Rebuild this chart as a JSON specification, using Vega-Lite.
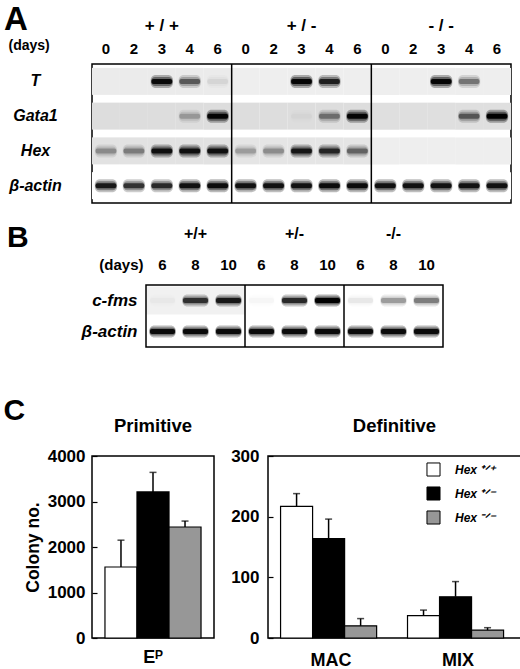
{
  "$schema": "https://vega.github.io/schema/vega-lite/v6.json",
  "background": "white",
  "padding": {"left": 3, "right": 0, "top": 3, "bottom": 0},
  "config": {
    "font": "Liberation Sans",
    "view": {"stroke": "black", "strokeWidth": 1.5},
    "axis": {"labelFont": "Liberation Sans", "labelFontWeight": "bold", "labelColor": "black", "titleFont": "Liberation Sans", "titleFontWeight": "bold", "titleColor": "black", "grid": false, "labelOverlap": false, "labelFlush": false},
    "title": {"font": "Liberation Sans", "fontWeight": "bold", "color": "black"}
  },
  "datasets": {
    "gelA": [
      {"gene": "T", "lane": "+ / +|0", "v": 0, "bg": 0.07},
      {"gene": "T", "lane": "+ / +|2", "v": 0, "bg": 0.07},
      {"gene": "T", "lane": "+ / +|3", "v": 0.9, "bg": 0.07},
      {"gene": "T", "lane": "+ / +|4", "v": 0.45, "bg": 0.07},
      {"gene": "T", "lane": "+ / +|6", "v": 0.05, "bg": 0.07},
      {"gene": "T", "lane": "+ / -|0", "v": 0, "bg": 0.06},
      {"gene": "T", "lane": "+ / -|2", "v": 0, "bg": 0.06},
      {"gene": "T", "lane": "+ / -|3", "v": 0.95, "bg": 0.06},
      {"gene": "T", "lane": "+ / -|4", "v": 0.75, "bg": 0.06},
      {"gene": "T", "lane": "+ / -|6", "v": 0, "bg": 0.06},
      {"gene": "T", "lane": "- / -|0", "v": 0, "bg": 0.06},
      {"gene": "T", "lane": "- / -|2", "v": 0, "bg": 0.06},
      {"gene": "T", "lane": "- / -|3", "v": 0.95, "bg": 0.06},
      {"gene": "T", "lane": "- / -|4", "v": 0.35, "bg": 0.06},
      {"gene": "T", "lane": "- / -|6", "v": 0, "bg": 0.06},
      {"gene": "Gata1", "lane": "+ / +|0", "v": 0, "bg": 0.12},
      {"gene": "Gata1", "lane": "+ / +|2", "v": 0, "bg": 0.12},
      {"gene": "Gata1", "lane": "+ / +|3", "v": 0, "bg": 0.12},
      {"gene": "Gata1", "lane": "+ / +|4", "v": 0.2, "bg": 0.12},
      {"gene": "Gata1", "lane": "+ / +|6", "v": 0.95, "bg": 0.12},
      {"gene": "Gata1", "lane": "+ / -|0", "v": 0, "bg": 0.12},
      {"gene": "Gata1", "lane": "+ / -|2", "v": 0, "bg": 0.12},
      {"gene": "Gata1", "lane": "+ / -|3", "v": 0.02, "bg": 0.12},
      {"gene": "Gata1", "lane": "+ / -|4", "v": 0.35, "bg": 0.12},
      {"gene": "Gata1", "lane": "+ / -|6", "v": 0.95, "bg": 0.12},
      {"gene": "Gata1", "lane": "- / -|0", "v": 0, "bg": 0.11},
      {"gene": "Gata1", "lane": "- / -|2", "v": 0, "bg": 0.11},
      {"gene": "Gata1", "lane": "- / -|3", "v": 0, "bg": 0.11},
      {"gene": "Gata1", "lane": "- / -|4", "v": 0.45, "bg": 0.11},
      {"gene": "Gata1", "lane": "- / -|6", "v": 1, "bg": 0.11},
      {"gene": "Hex", "lane": "+ / +|0", "v": 0.25, "bg": 0.1},
      {"gene": "Hex", "lane": "+ / +|2", "v": 0.3, "bg": 0.1},
      {"gene": "Hex", "lane": "+ / +|3", "v": 0.85, "bg": 0.1},
      {"gene": "Hex", "lane": "+ / +|4", "v": 0.85, "bg": 0.1},
      {"gene": "Hex", "lane": "+ / +|6", "v": 0.85, "bg": 0.1},
      {"gene": "Hex", "lane": "+ / -|0", "v": 0.2, "bg": 0.09},
      {"gene": "Hex", "lane": "+ / -|2", "v": 0.25, "bg": 0.09},
      {"gene": "Hex", "lane": "+ / -|3", "v": 0.8, "bg": 0.09},
      {"gene": "Hex", "lane": "+ / -|4", "v": 0.7, "bg": 0.09},
      {"gene": "Hex", "lane": "+ / -|6", "v": 0.4, "bg": 0.09},
      {"gene": "Hex", "lane": "- / -|0", "v": 0, "bg": 0.06},
      {"gene": "Hex", "lane": "- / -|2", "v": 0, "bg": 0.06},
      {"gene": "Hex", "lane": "- / -|3", "v": 0, "bg": 0.06},
      {"gene": "Hex", "lane": "- / -|4", "v": 0, "bg": 0.06},
      {"gene": "Hex", "lane": "- / -|6", "v": 0, "bg": 0.06},
      {"gene": "β-actin", "lane": "+ / +|0", "v": 0.8, "bg": 0},
      {"gene": "β-actin", "lane": "+ / +|2", "v": 0.65, "bg": 0},
      {"gene": "β-actin", "lane": "+ / +|3", "v": 0.7, "bg": 0},
      {"gene": "β-actin", "lane": "+ / +|4", "v": 0.85, "bg": 0},
      {"gene": "β-actin", "lane": "+ / +|6", "v": 0.9, "bg": 0},
      {"gene": "β-actin", "lane": "+ / -|0", "v": 0.85, "bg": 0},
      {"gene": "β-actin", "lane": "+ / -|2", "v": 0.85, "bg": 0},
      {"gene": "β-actin", "lane": "+ / -|3", "v": 0.85, "bg": 0},
      {"gene": "β-actin", "lane": "+ / -|4", "v": 0.9, "bg": 0},
      {"gene": "β-actin", "lane": "+ / -|6", "v": 0.9, "bg": 0},
      {"gene": "β-actin", "lane": "- / -|0", "v": 0.85, "bg": 0},
      {"gene": "β-actin", "lane": "- / -|2", "v": 0.85, "bg": 0},
      {"gene": "β-actin", "lane": "- / -|3", "v": 0.85, "bg": 0},
      {"gene": "β-actin", "lane": "- / -|4", "v": 0.85, "bg": 0},
      {"gene": "β-actin", "lane": "- / -|6", "v": 0.85, "bg": 0}
    ],
    "gelADividers": [{"lane": "+ / -|0"}, {"lane": "- / -|0"}],
    "gelB": [
      {"gene": "c-fms", "lane": "+/+|6", "v": 0.02, "bg": 0.05},
      {"gene": "c-fms", "lane": "+/+|8", "v": 0.65, "bg": 0.05},
      {"gene": "c-fms", "lane": "+/+|10", "v": 0.8, "bg": 0.05},
      {"gene": "c-fms", "lane": "+/-|6", "v": 0.02, "bg": 0},
      {"gene": "c-fms", "lane": "+/-|8", "v": 0.7, "bg": 0},
      {"gene": "c-fms", "lane": "+/-|10", "v": 1, "bg": 0},
      {"gene": "c-fms", "lane": "-/-|6", "v": 0.05, "bg": 0},
      {"gene": "c-fms", "lane": "-/-|8", "v": 0.25, "bg": 0},
      {"gene": "c-fms", "lane": "-/-|10", "v": 0.35, "bg": 0},
      {"gene": "β-actin", "lane": "+/+|6", "v": 0.9, "bg": 0},
      {"gene": "β-actin", "lane": "+/+|8", "v": 0.9, "bg": 0},
      {"gene": "β-actin", "lane": "+/+|10", "v": 0.9, "bg": 0},
      {"gene": "β-actin", "lane": "+/-|6", "v": 0.9, "bg": 0},
      {"gene": "β-actin", "lane": "+/-|8", "v": 0.9, "bg": 0},
      {"gene": "β-actin", "lane": "+/-|10", "v": 0.9, "bg": 0},
      {"gene": "β-actin", "lane": "-/-|6", "v": 0.9, "bg": 0},
      {"gene": "β-actin", "lane": "-/-|8", "v": 0.9, "bg": 0},
      {"gene": "β-actin", "lane": "-/-|10", "v": 0.9, "bg": 0}
    ],
    "gelBDividers": [{"lane": "+/-|6"}, {"lane": "-/-|6"}],
    "gelBFrame": [{"from": "+/+|6", "to": "-/-|10"}],
    "primitive": [
      {"cat": "Eᴾ", "geno": "+/+", "value": 1560, "upper": 2150},
      {"cat": "Eᴾ", "geno": "+/-", "value": 3210, "upper": 3640},
      {"cat": "Eᴾ", "geno": "-/-", "value": 2440, "upper": 2570}
    ],
    "definitive": [
      {"cat": "MAC", "geno": "+/+", "value": 217, "upper": 238},
      {"cat": "MAC", "geno": "+/-", "value": 164, "upper": 196},
      {"cat": "MAC", "geno": "-/-", "value": 20, "upper": 32},
      {"cat": "MIX", "geno": "+/+", "value": 37, "upper": 46},
      {"cat": "MIX", "geno": "+/-", "value": 68, "upper": 93},
      {"cat": "MIX", "geno": "-/-", "value": 13, "upper": 17}
    ]
  },
  "columns": 1,
  "spacing": 47,
  "concat": [
    {
      "columns": 1,
      "spacing": 18,
      "concat": [
        {
          "width": 419,
          "height": 139,
          "title": {"text": "A", "anchor": "start", "frame": "bounds", "fontSize": 33, "offset": -21, "dx": -4},
          "resolve": {"axis": {"x": "independent"}, "scale": {"opacity": "independent"}},
          "layer": [
            {
              "data": {"name": "gelA"},
              "mark": {"type": "rect", "height": 27},
              "encoding": {
                "x": {"field": "lane", "type": "nominal", "scale": {"domain": ["+ / +|0", "+ / +|2", "+ / +|3", "+ / +|4", "+ / +|6", "+ / -|0", "+ / -|2", "+ / -|3", "+ / -|4", "+ / -|6", "- / -|0", "- / -|2", "- / -|3", "- / -|4", "- / -|6"], "paddingInner": 0, "paddingOuter": 0},
                  "axis": {"orient": "top", "labelExpr": "split(datum.value, '|')[1]", "labelAngle": 0, "ticks": false, "tickSize": 0, "domain": false, "labelFontSize": 15, "labelPadding": 8, "title": "(days)", "titleFontSize": 14, "titleAngle": 0, "titleAlign": "left", "titleBaseline": "alphabetic", "titleX": -84, "titleY": -15}},
                "y": {"field": "gene", "type": "nominal", "scale": {"domain": ["T", "Gata1", "Hex", "β-actin"], "paddingInner": 0, "paddingOuter": 0},
                  "axis": {"title": null, "ticks": false, "tickSize": 0, "domain": false, "labelAlign": "center", "labelBaseline": "middle", "labelPadding": 57, "labelFontSize": 16, "labelFontStyle": "italic"}},
                "fill": {"field": "bg", "type": "quantitative", "scale": {"domain": [0, 1], "range": ["white", "black"]}, "legend": null}
              }
            },
            {
              "data": {"name": "gelA"},
              "mark": {"type": "rect", "height": 13, "width": {"band": 0.8}, "fill": "black", "cornerRadius": 5},
              "encoding": {
                "x": {"field": "lane", "type": "nominal", "axis": null},
                "y": {"field": "gene", "type": "nominal"},
                "opacity": {"field": "v", "type": "quantitative", "scale": {"domain": [0, 1], "range": [0, 0.3]}, "legend": null}
              }
            },
            {
              "data": {"name": "gelA"},
              "mark": {"type": "rect", "height": 9, "width": {"band": 0.77}, "fill": "black", "cornerRadius": 4},
              "encoding": {
                "x": {"field": "lane", "type": "nominal", "axis": null},
                "y": {"field": "gene", "type": "nominal"},
                "opacity": {"field": "v", "type": "quantitative", "scale": {"domain": [0, 1], "range": [0, 0.45]}, "legend": null}
              }
            },
            {
              "data": {"name": "gelA"},
              "mark": {"type": "rect", "height": 5, "width": {"band": 0.74}, "fill": "black", "cornerRadius": 2},
              "encoding": {
                "x": {"field": "lane", "type": "nominal", "axis": null},
                "y": {"field": "gene", "type": "nominal"},
                "opacity": {"field": "v", "type": "quantitative", "scale": {"domain": [0, 1], "range": [0, 1]}, "legend": null}
              }
            },
            {
              "data": {"name": "gelADividers"},
              "mark": {"type": "rule", "strokeWidth": 1.5, "color": "black"},
              "encoding": {
                "x": {"field": "lane", "type": "nominal", "bandPosition": 0,
                  "axis": {"orient": "top", "labelExpr": "split(datum.value, '|')[1] == '3' ? split(datum.value, '|')[0] : ''", "labelAngle": 0, "ticks": false, "tickSize": 0, "domain": false, "labelFontSize": 17, "labelPadding": 30, "title": null}}
              }
            }
          ]
        },
        {
          "width": 419,
          "height": 62,
          "view": {"stroke": null},
          "title": {"text": "B", "anchor": "start", "frame": "bounds", "fontSize": 30, "offset": -28, "dx": -74},
          "resolve": {"axis": {"x": "independent"}, "scale": {"opacity": "independent"}},
          "layer": [
            {
              "data": {"name": "gelB"},
              "mark": {"type": "rect", "height": 28},
              "encoding": {
                "x": {"field": "lane", "type": "nominal", "scale": {"domain": ["+/+|6", "+/+|8", "+/+|10", "+/-|6", "+/-|8", "+/-|10", "-/-|6", "-/-|8", "-/-|10"], "range": [54, 351], "paddingInner": 0, "paddingOuter": 0},
                  "axis": {"orient": "top", "labelExpr": "split(datum.value, '|')[1]", "labelAngle": 0, "ticks": false, "tickSize": 0, "domain": false, "labelFontSize": 15, "labelPadding": 13, "title": "(days)", "titleFontSize": 15, "titleAngle": 0, "titleAlign": "right", "titleBaseline": "alphabetic", "titleX": 51, "titleY": -16}},
                "y": {"field": "gene", "type": "nominal", "scale": {"domain": ["c-fms", "β-actin"], "paddingInner": 0, "paddingOuter": 0},
                  "axis": {"title": null, "ticks": false, "tickSize": 0, "domain": false, "offset": -54, "labelBaseline": "middle", "labelPadding": 9, "labelFontSize": 17, "labelFontStyle": "italic"}},
                "fill": {"field": "bg", "type": "quantitative", "scale": {"domain": [0, 1], "range": ["white", "black"]}, "legend": null}
              }
            },
            {
              "data": {"name": "gelB"},
              "mark": {"type": "rect", "height": 12, "width": {"band": 0.8}, "fill": "black", "cornerRadius": 5},
              "encoding": {
                "x": {"field": "lane", "type": "nominal", "axis": null},
                "y": {"field": "gene", "type": "nominal"},
                "opacity": {"field": "v", "type": "quantitative", "scale": {"domain": [0, 1], "range": [0, 0.3]}, "legend": null}
              }
            },
            {
              "data": {"name": "gelB"},
              "mark": {"type": "rect", "height": 8, "width": {"band": 0.78}, "fill": "black", "cornerRadius": 3},
              "encoding": {
                "x": {"field": "lane", "type": "nominal", "axis": null},
                "y": {"field": "gene", "type": "nominal"},
                "opacity": {"field": "v", "type": "quantitative", "scale": {"domain": [0, 1], "range": [0, 0.45]}, "legend": null}
              }
            },
            {
              "data": {"name": "gelB"},
              "mark": {"type": "rect", "height": 5, "width": {"band": 0.76}, "fill": "black", "cornerRadius": 2},
              "encoding": {
                "x": {"field": "lane", "type": "nominal", "axis": null},
                "y": {"field": "gene", "type": "nominal"},
                "opacity": {"field": "v", "type": "quantitative", "scale": {"domain": [0, 1], "range": [0, 1]}, "legend": null}
              }
            },
            {
              "data": {"name": "gelBFrame"},
              "mark": {"type": "rect", "filled": false, "stroke": "black", "strokeWidth": 1.5},
              "encoding": {
                "x": {"field": "from", "type": "nominal", "bandPosition": 0, "axis": null},
                "x2": {"field": "to", "bandPosition": 1}
              }
            },
            {
              "data": {"name": "gelBDividers"},
              "mark": {"type": "rule", "strokeWidth": 1.5, "color": "black"},
              "encoding": {
                "x": {"field": "lane", "type": "nominal", "bandPosition": 0,
                  "axis": {"orient": "top", "labelExpr": "split(datum.value, '|')[1] == '8' ? split(datum.value, '|')[0] : ''", "labelAngle": 0, "ticks": false, "tickSize": 0, "domain": false, "labelFontSize": 16, "labelPadding": 44, "title": null}}
              }
            }
          ]
        }
      ]
    },
    {
      "title": {"text": "C", "anchor": "start", "frame": "bounds", "fontSize": 30, "offset": -10, "dx": -20},
      "spacing": 14,
      "resolve": {"scale": {"fill": "independent"}, "legend": {"fill": "independent"}},
      "hconcat": [
        {
          "width": 122,
          "height": 182,
          "title": {"text": "Primitive", "fontSize": 18.5, "offset": 12},
          "data": {"name": "primitive"},
          "encoding": {
            "x": {"field": "cat", "type": "nominal", "scale": {"paddingInner": 0.2, "paddingOuter": 0.108},
              "axis": {"title": null, "labelAngle": 0, "ticks": false, "domain": false, "labelFontSize": 18, "labelPadding": 10}},
            "xOffset": {"field": "geno", "type": "nominal", "sort": ["+/+", "+/-", "-/-"], "scale": {"paddingInner": 0, "paddingOuter": 0}}
          },
          "layer": [
            {
              "mark": {"type": "bar", "stroke": "black", "strokeWidth": 1.2},
              "encoding": {
                "y": {"field": "value", "type": "quantitative", "title": "Colony no.", "scale": {"domain": [0, 4000]},
                  "axis": {"values": [0, 1000, 2000, 3000, 4000], "format": "d", "tickSize": -5, "tickWidth": 1.2, "tickColor": "black", "domain": false, "labelFontSize": 17, "labelPadding": 12, "titleFontSize": 17.5, "titlePadding": 5}},
                "fill": {"field": "geno", "type": "nominal", "scale": {"domain": ["+/+", "+/-", "-/-"], "range": ["white", "black", "#979797"]}, "legend": null}
              }
            },
            {
              "mark": {"type": "rule", "strokeWidth": 1.5, "color": "black"},
              "encoding": {
                "y": {"field": "value", "type": "quantitative", "title": "Colony no."},
                "y2": {"field": "upper"}
              }
            },
            {
              "mark": {"type": "tick", "size": 7, "thickness": 1.5, "color": "black"},
              "encoding": {
                "y": {"field": "upper", "type": "quantitative", "title": "Colony no."}
              }
            }
          ]
        },
        {
          "width": 253,
          "height": 182,
          "title": {"text": "Definitive", "fontSize": 18.5, "offset": 12},
          "data": {"name": "definitive"},
          "encoding": {
            "x": {"field": "cat", "type": "nominal", "scale": {"paddingInner": 0.205, "paddingOuter": 0.099},
              "axis": {"title": null, "labelAngle": 0, "ticks": false, "domain": false, "labelFontSize": 18, "labelPadding": 13}},
            "xOffset": {"field": "geno", "type": "nominal", "sort": ["+/+", "+/-", "-/-"], "scale": {"paddingInner": 0, "paddingOuter": 0}}
          },
          "layer": [
            {
              "mark": {"type": "bar", "stroke": "black", "strokeWidth": 1.2},
              "encoding": {
                "y": {"field": "value", "type": "quantitative", "title": null, "scale": {"domain": [0, 300]},
                  "axis": {"values": [0, 100, 200, 300], "format": "d", "tickSize": -5, "tickWidth": 1.2, "tickColor": "black", "domain": false, "labelFontSize": 17, "labelPadding": 14}},
                "fill": {"field": "geno", "type": "nominal", "scale": {"domain": ["+/+", "+/-", "-/-"], "range": ["white", "black", "#979797"]},
                  "legend": {"orient": "none", "legendX": 158, "legendY": 6, "title": null, "symbolType": "square", "symbolSize": 170, "symbolStrokeColor": "black", "symbolStrokeWidth": 1, "symbolOpacity": 1, "labelFont": "Liberation Sans", "labelFontStyle": "italic", "labelFontWeight": "bold", "labelFontSize": 12, "labelColor": "black", "labelOffset": 14, "rowPadding": 5,
                    "labelExpr": "'Hex ' + (datum.label == '+/+' ? '⁺ᐟ⁺' : datum.label == '+/-' ? '⁺ᐟ⁻' : '⁻ᐟ⁻')"}}
              }
            },
            {
              "mark": {"type": "rule", "strokeWidth": 1.5, "color": "black"},
              "encoding": {
                "y": {"field": "value", "type": "quantitative", "title": null},
                "y2": {"field": "upper"}
              }
            },
            {
              "mark": {"type": "tick", "size": 7, "thickness": 1.5, "color": "black"},
              "encoding": {
                "y": {"field": "upper", "type": "quantitative", "title": null}
              }
            }
          ]
        }
      ]
    }
  ]
}
